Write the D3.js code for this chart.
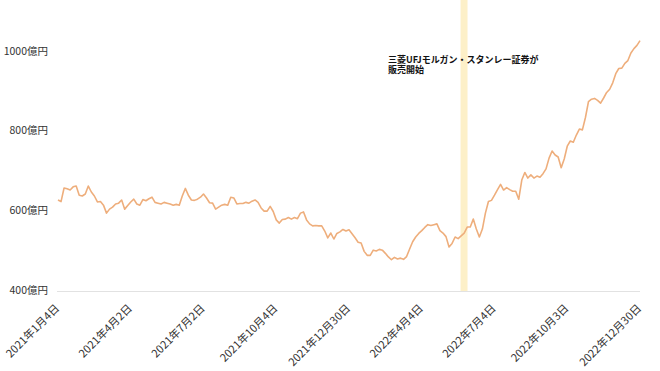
<!DOCTYPE html>
<html>
<head>
<meta charset="utf-8">
<script src="https://cdn.jsdelivr.net/npm/d3@7"></script>
<style>
  body { margin: 0; background: #fff; }
  text { font-family: "Noto Sans CJK JP", "Noto Sans", sans-serif; }
</style>
</head>
<body>
<script>
"use-strict";

// 残高（億円）、2021年1月4日〜2022年12月30日、ほぼ等間隔に読んだ値
let values = [
  626, 622, 656, 654, 651, 659, 661, 638, 636, 641, 661, 646, 636, 621, 622, 613,
  593, 603, 608, 616, 618, 626, 603, 612, 621, 628, 616, 613, 627, 624, 629, 633,
  620, 618, 616, 620, 618, 616, 613, 615, 613, 636, 655, 638, 626, 625, 628, 633,
  641, 631, 619, 618, 603, 608, 613, 615, 613, 633, 631, 616, 617, 617, 620, 618,
  623, 626, 620, 606, 598, 598, 610, 597, 576, 568, 577, 578, 582, 578, 582, 579,
  593, 596, 576, 566, 561, 562, 561, 561, 548, 531, 543, 528, 542, 546, 552, 548,
  551, 541, 531, 520, 518, 497, 487, 487, 500, 498, 502, 500, 492, 483, 476, 482,
  478, 480, 477, 484, 503, 521, 533, 542, 549, 557, 564, 562, 564, 566, 549, 543,
  534, 508, 517, 533, 529, 536, 543, 558, 558, 578, 553, 533, 553, 593, 622, 625,
  638, 652, 665, 651, 657, 652, 648, 648, 628, 676, 695, 681, 689, 681, 686, 683,
  692, 704, 731, 749, 739, 734, 707, 729, 761, 774, 771, 789, 804, 802, 833, 873,
  879, 881, 876, 869, 882, 896, 904, 920, 943, 956, 957, 969, 976, 995, 1006, 1014,
  1026
];

let tickLabels = [
  "2021年1月4日", "2021年4月2日", "2021年7月2日", "2021年10月4日", "2021年12月30日",
  "2022年4月4日", "2022年7月4日", "2022年10月3日", "2022年12月30日"
];
let tickEvery = 24;

let yTicks = [400, 600, 800, 1000];

// 販売開始の帯（データ上の位置）
let eventStart = 132.8;
let eventEnd = 135.1;
let eventText = ["三菱UFJモルガン・スタンレー証券が", "販売開始"];

let width = 660;
let height = 371;

let svg = d3.select("body").append("svg").attr("width", width).attr("height", height);

let x = d3.scaleLinear()
  .domain([0, values.length - 1])
  .range([58, 640]);

let y = d3.scaleLinear()
  .domain([400, 1000])
  .range([290, 51]);

// highlight band
svg.append("rect")
  .attr("x", x(eventStart))
  .attr("y", 0)
  .attr("width", x(eventEnd) - x(eventStart))
  .attr("height", y(400) + 2)
  .attr("fill", "#fdf0c8");

// baseline
svg.append("line")
  .attr("x1", 57)
  .attr("x2", 640)
  .attr("y1", y(400) + 1.5)
  .attr("y2", y(400) + 1.5)
  .attr("stroke", "#e2e2e2")
  .attr("stroke-width", 1);

// y labels
svg.append("g").selectAll("text")
  .data(yTicks)
  .enter()
  .append("text")
  .attr("x", 48)
  .attr("y", d => y(d))
  .attr("dy", "0.35em")
  .attr("text-anchor", "end")
  .attr("font-size", 10.5)
  .attr("fill", "#333")
  .text(d => d + "億円");

// x labels
svg.append("g").selectAll("text")
  .data(tickLabels)
  .enter()
  .append("text")
  .attr("transform", (d, i) => "translate(" + (x(i * tickEvery) + 2) + "," + 309 + ") rotate(-45)")
  .attr("text-anchor", "end")
  .attr("font-size", 11)
  .attr("fill", "#333")
  .text(d => d);

// line
let line = d3.line()
  .x((d, i) => x(i))
  .y(d => y(d));

svg.append("path")
  .datum(values)
  .attr("fill", "none")
  .attr("stroke", "#eeae7c")
  .attr("stroke-width", 1.6)
  .attr("stroke-linejoin", "round")
  .attr("d", line);

// annotation
svg.append("g").selectAll("text")
  .data(eventText)
  .enter()
  .append("text")
  .attr("x", 388)
  .attr("y", (d, i) => 62.5 + i * 10.5)
  .attr("font-size", 9)
  .attr("font-weight", "bold")
  .attr("fill", "#111")
  .text(d => d);
</script>
</body>
</html>
